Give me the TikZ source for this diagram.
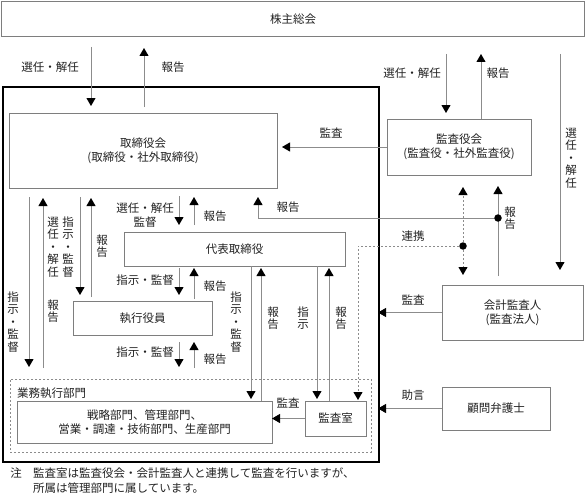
\documentclass[tikz,border=0pt]{standalone}
\usepackage{fontspec}
\setmainfont{Noto Sans CJK JP}
\usetikzlibrary{arrows.meta,calc}
\definecolor{ln}{HTML}{8C8C8C}
\definecolor{bx}{HTML}{7E7E7E}
\definecolor{tx}{HTML}{222222}
\newcommand\myfs{\fontsize{11.5}{14}\selectfont}
\newcommand\myvfs{\fontsize{11.5}{12.5}\selectfont}
\tikzset{
  box/.style={draw=bx, line width=1pt, anchor=north west, inner sep=0pt, outer sep=0pt, align=center, text=tx, font=\myfs},
  tip/.style={-{Triangle[width=9pt,length=8pt,color=black]}},
  arr/.style={draw=ln, line width=0.9pt, tip},
  dotln/.style={draw=ln, line width=0.9pt, dash pattern=on 2pt off 2pt},
  lab/.style={text=tx, font=\myfs, inner sep=0pt, align=center},
  vlab/.style={text=tx, font=\myvfs, inner sep=0pt, align=center},
  bigdot/.style={circle, fill=black, draw=none, inner sep=0pt, minimum size=7.5pt},
}
\begin{document}
\begin{tikzpicture}[x=1pt,y=-1pt]
\useasboundingbox (0,0) rectangle (586,495);
\fill[white] (0,0) rectangle (586,495);

% x guide coordinates
\foreach \v in {29,43,80,91,144,179,194,251,258,261,317,329,358,446,481,560}{
  \coordinate (x\v) at (\v,0);
}

% boxes
\node[box, minimum width=583pt, minimum height=35.5pt] (kabu) at (1.5,1.5) {株主総会};
\node[draw=black, line width=1.6pt, anchor=north west, inner sep=0pt, outer sep=0pt,
      minimum width=376pt, minimum height=375pt] (company) at (3,87) {};
\node[box, minimum width=268pt, minimum height=75pt] (board) at (9,113) {取締役会\\(取締役・社外取締役)};
\node[box, minimum width=144pt, minimum height=56pt] (kansa) at (387,119) {監査役会\\(監査役・社外監査役)};
\node[box, minimum width=221pt, minimum height=34pt] (rep) at (124,232) {代表取締役};
\node[box, minimum width=139pt, minimum height=34pt] (exec) at (73,301) {執行役員};
\node[dotln, anchor=north west, inner sep=0pt, outer sep=0pt,
      minimum width=361pt, minimum height=73pt] (ops) at (10,379) {};
\node[box, minimum width=255pt, minimum height=42pt] (dept) at (17,401) {戦略部門、管理部門、\\営業・調達・技術部門、生産部門};
\node[box, minimum width=61pt, minimum height=35pt] (audit) at (305,401) {監査室};
\node[box, minimum width=141pt, minimum height=55pt] (acct) at (442,285) {会計監査人\\(監査法人)};
\node[box, minimum width=108pt, minimum height=43pt] (lawyer) at (442,387) {顧問弁護士};

\coordinate (d1) at (498,218);
\coordinate (d2) at (463,246);

% shareholders <-> board
\draw[arr, shorten <=10pt, shorten >=7pt] (kabu.south -| x91) -- (board.north -| x91);
\draw[arr, shorten <=6pt, shorten >=11pt] (board.north -| x144) -- (kabu.south -| x144);
% shareholders <-> kansa / acct
\draw[arr, shorten <=17pt, shorten >=6pt] (kabu.south -| x446) -- (kansa.north -| x446);
\draw[arr, shorten >=17pt] (kansa.north -| x481) -- (kabu.south -| x481);
\draw[arr, shorten <=17pt, shorten >=15pt] (kabu.south -| x560) -- (acct.north -| x560);
% kansa -> board
\draw[arr, shorten >=5pt] (kansa.west) -- (kansa.west -| board.east);
% board <-> rep
\draw[arr, shorten <=8pt, shorten >=7pt] (board.south -| x179) -- (rep.north -| x179);
\draw[arr, shorten <=7pt, shorten >=9pt] (rep.north -| x194) -- (board.south -| x194);
% acct reports
\draw[arr, shorten <=9pt, shorten >=11pt] (acct.north -| d1) -- (kansa.south -| d1);
\draw[arr, shorten >=9pt] (d1) -| (board.south -| x258);
% cooperation (dotted)
\draw[dotln, tip, shorten >=12pt] (d2) -- (kansa.south -| d2);
\draw[dotln, tip, shorten >=10pt] (d2) -- (acct.north -| d2);
\draw[dotln, tip, shorten >=1pt] (d2) -| (audit.north -| x358);
% rep <-> exec
\draw[arr, shorten <=2pt, shorten >=6pt] (rep.south -| x179) -- (exec.north -| x179);
\draw[arr, shorten <=2pt, shorten >=2pt] (exec.north -| x194) -- (rep.south -| x194);
% exec <-> ops
\draw[arr, shorten <=7pt, shorten >=12pt] (exec.south -| x179) -- (ops.north -| x179);
\draw[arr, shorten <=11pt, shorten >=7pt] (ops.north -| x194) -- (exec.south -| x194);
% board <-> ops / exec
\draw[arr, shorten <=9pt, shorten >=12pt] (board.south -| x29) -- (ops.north -| x29);
\draw[arr, shorten <=11pt, shorten >=10pt] (ops.north -| x43) -- (board.south -| x43);
\draw[arr, shorten <=9pt, shorten >=6pt] (board.south -| x80) -- (exec.north -| x80);
\draw[arr, shorten <=4pt, shorten >=10pt] (exec.north -| x91) -- (board.south -| x91);
% rep <-> dept / audit
\draw[arr, shorten >=2pt] (rep.south -| x251) -- (dept.north -| x251);
\draw[arr, shorten >=2pt] (dept.north -| x261) -- (rep.south -| x261);
\draw[arr, shorten >=2pt] (rep.south -| x317) -- (audit.north -| x317);
\draw[arr, shorten >=2pt] (audit.north -| x329) -- (rep.south -| x329);
% audit -> dept
\draw[arr] (audit.west) -- (audit.west -| dept.east);
% external -> company
\draw[arr, shorten >=-1pt] (acct.west) -- (acct.west -| company.east);
\draw[arr, shorten >=-1pt] (lawyer.west) -- (lawyer.west -| company.east);

% junction dots
\node[bigdot] (dot1) at (d1) {};
\node[bigdot] (dot2) at (d2) {};

% horizontal labels
\node[lab] (l1) at (50,67) {選任・解任};
\node[lab] (l2) at (173,67) {報告};
\node[lab] (l3) at (412,73) {選任・解任};
\node[lab] (l4) at (498,73) {報告};
\node[lab] (l5) at (331,133) {監査};
\node[lab] (l6) at (145,215) {選任・解任\\監督};
\node[lab] (l7) at (215,216) {報告};
\node[lab] (l8) at (288,207) {報告};
\node[lab] (l9) at (413,236) {連携};
\node[lab] (l10) at (145,280) {指示・監督};
\node[lab] (l11) at (215,286) {報告};
\node[lab] (l12) at (145,352) {指示・監督};
\node[lab] (l13) at (215,359) {報告};
\node[lab] (l14) at (413,300) {監査};
\node[lab] (l15) at (413,395) {助言};
\node[lab] (l16) at (288,403) {監査};
\node[lab, anchor=west] (l17) at (17,393) {業務執行部門};

% vertical labels
\node[vlab] (v1) at (13,322) {指\\示\\・\\監\\督};
\node[vlab] (v2) at (53,311) {報\\告};
\node[vlab] (v3) at (53,247) {選\\任\\・\\解\\任};
\node[vlab] (v4) at (68,247) {指\\示\\・\\監\\督};
\node[vlab] (v5) at (102,246) {報\\告};
\node[vlab] (v6) at (236,322) {指\\示\\・\\監\\督};
\node[vlab] (v7) at (273,318) {報\\告};
\node[vlab] (v8) at (303,318) {指\\示};
\node[vlab] (v9) at (341,318) {報\\告};
\node[vlab] (v10) at (571,158) {選\\任\\・\\解\\任};
\node[vlab] (v11) at (510,218) {報\\告};

% note
\node[lab] (n0) at (16,473) {注};
\node[lab, anchor=west] (n1) at (33,473) {監査室は監査役会・会計監査人と連携して監査を行いますが、};
\node[lab, anchor=west] (n2) at (33,488) {所属は管理部門に属しています。};
\end{tikzpicture}
\end{document}
